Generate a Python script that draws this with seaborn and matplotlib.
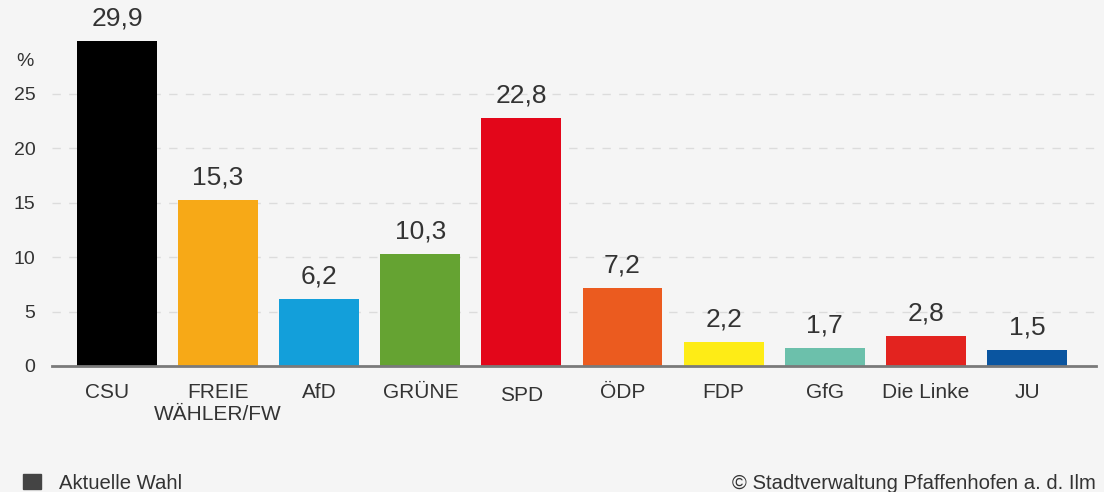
import matplotlib
matplotlib.use("Agg")
import matplotlib.pyplot as plt
import matplotlib.transforms as mtransforms
import seaborn as sns
import pandas as pd

parties = ["CSU", "FREIE\nWÄHLER/FW", "AfD", "GRÜNE", "SPD", "ÖDP", "FDP", "GfG", "Die Linke", "JU"]
shares = [29.9, 15.3, 6.2, 10.3, 22.8, 7.2, 2.2, 1.7, 2.8, 1.5]
colors = ["#000000", "#f7a917", "#139fda", "#65a332", "#e3061a", "#eb5b1f",
          "#feec16", "#6cc0ab", "#e3231f", "#0a55a0"]
yticks = [0, 5, 10, 15, 20, 25]

sns.set_theme(style="white")
plt.rcParams["font.family"] = ["Liberation Sans", "DejaVu Sans"]

BG = "#f5f5f5"
TXT = "#333333"
W, H = 1104, 492
fig = plt.figure(figsize=(W / 100, H / 100), dpi=100, facecolor=BG)
ax_top_px = 366 - 31 * 10.88
ax = fig.add_axes([52 / W, 126 / H, (1096 - 52) / W, (366 - ax_top_px) / H])
ax.set_facecolor(BG)

df = pd.DataFrame({"party": parties, "share": shares})
sns.barplot(data=df, x="party", y="share", hue="party", palette=colors,
            legend=False, width=0.79, saturation=1, linewidth=0, ax=ax, zorder=3)

ax.set_xlim(-0.643, 9.683)
ax.set_ylim(0, 31)
ax.set_yticks(yticks)
ax.set_yticklabels([str(t) for t in yticks], fontsize=14, color=TXT)
ax.tick_params(axis="y", length=0, pad=12)
ax.tick_params(axis="x", length=0, pad=12, labelsize=15, labelcolor=TXT)
ax.set_xlabel("")
ax.set_ylabel("")
for s in ["top", "right", "left"]:
    ax.spines[s].set_visible(False)
ax.spines["bottom"].set_color("#7a7a7a")
ax.spines["bottom"].set_linewidth(2)
ax.spines["bottom"].set_zorder(4)

for t in yticks[1:]:
    ax.axhline(t, color="#dcdcdc", lw=1, ls=(0, (6, 6)), zorder=1)

for i, v in enumerate(shares):
    ax.annotate(f"{v:.1f}".replace(".", ","), (i, v), xytext=(0, 7.5),
                textcoords="offset points", ha="center", va="bottom",
                fontsize=19, color=TXT)

offsets = {"CSU": (-10, 0), "SPD": (0, -3)}
for lbl in ax.get_xticklabels():
    lbl.set_linespacing(1.25)
    lbl.set_verticalalignment("top")
    dx, dy = offsets.get(lbl.get_text(), (0, 0))
    if dx or dy:
        lbl.set_transform(lbl.get_transform() +
                          mtransforms.ScaledTranslation(dx / 100, dy / 100, fig.dpi_scale_trans))

fig.text(25 / W, 1 - 62 / H, "%", fontsize=14, color=TXT, ha="center", va="center")

fig.patches.append(plt.Rectangle((23 / W, 1 - 489 / H), 18 / W, 15 / H,
                                 transform=fig.transFigure, color="#444444", figure=fig))
fig.text(59 / W, 1 - 489 / H, "Aktuelle Wahl", fontsize=14.6, color=TXT, ha="left", va="baseline")
fig.text(1096 / W, 1 - 489 / H, "© Stadtverwaltung Pfaffenhofen a. d. Ilm", fontsize=14.6,
         color=TXT, ha="right", va="baseline")

fig.savefig("out.png", dpi=100, facecolor=BG)
